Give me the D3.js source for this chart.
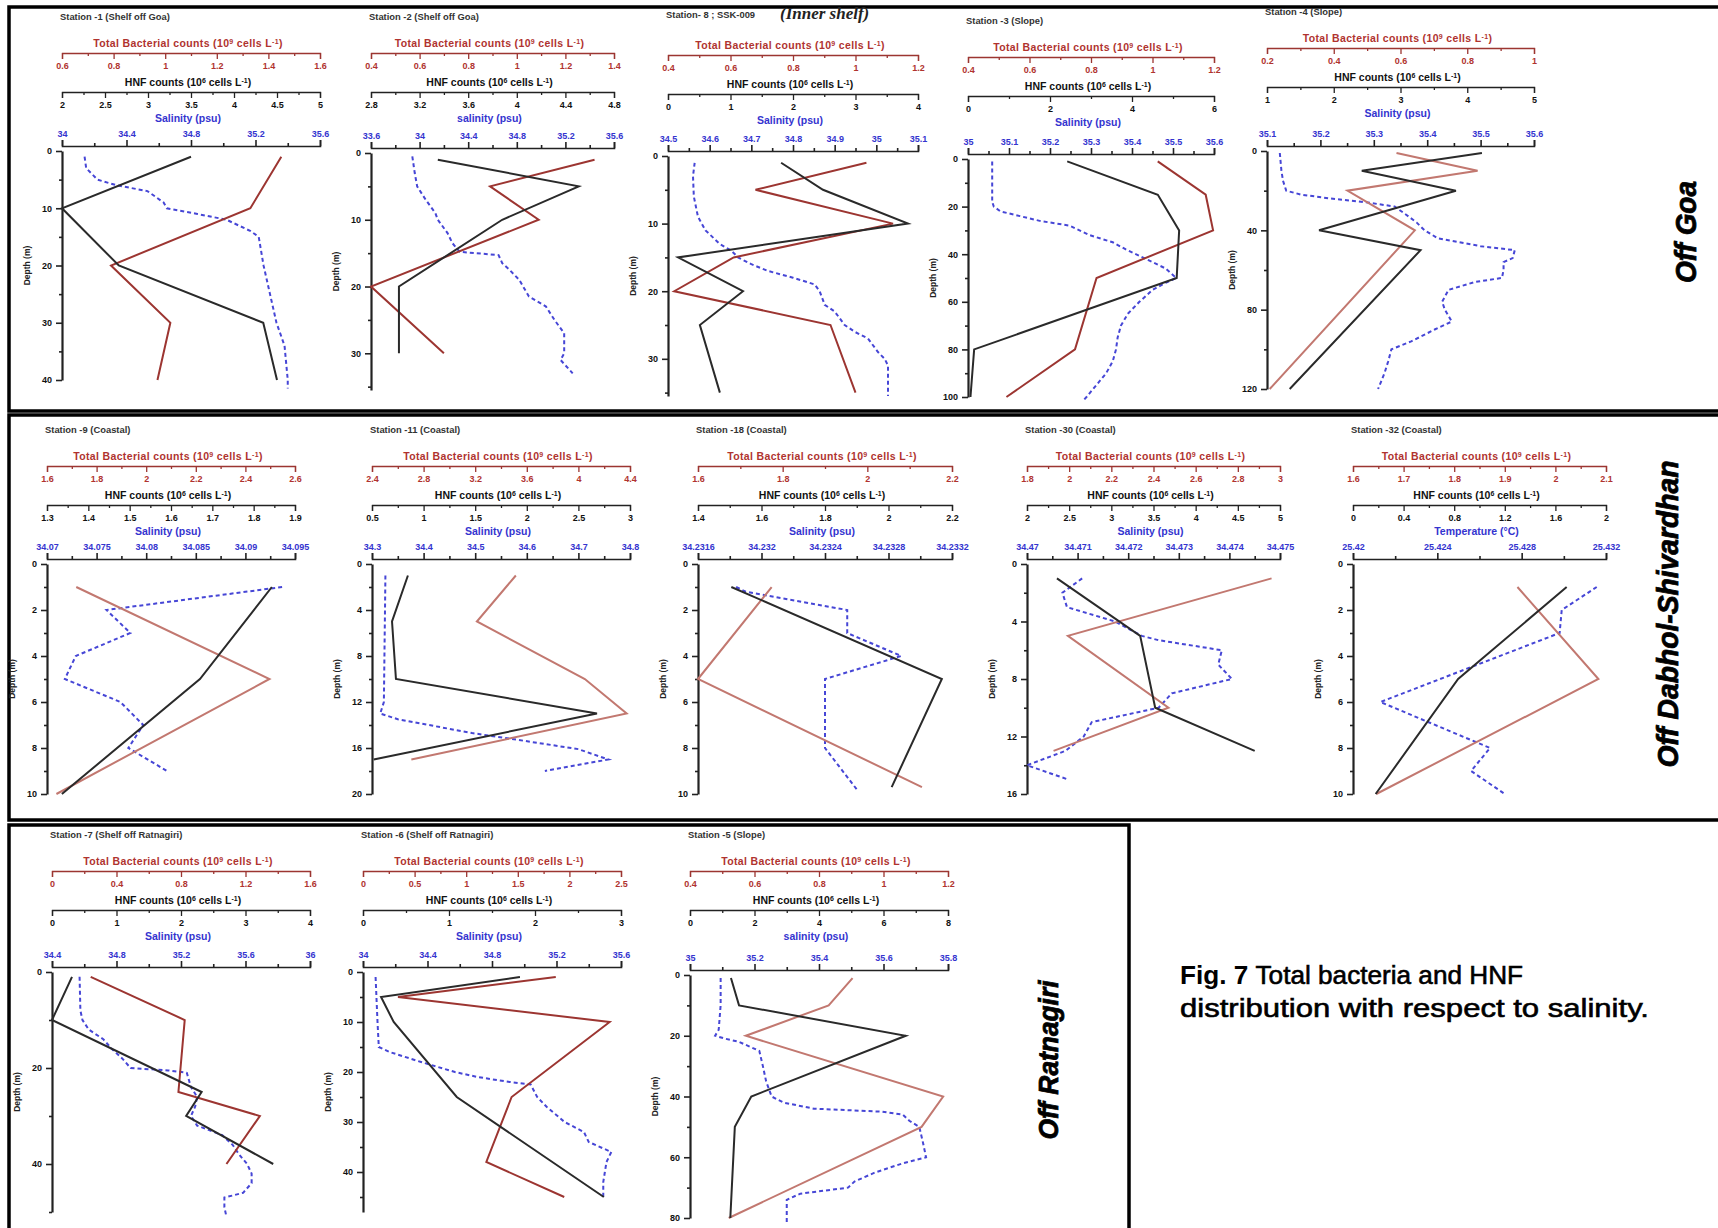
<!DOCTYPE html>
<html>
<head>
<meta charset="utf-8">
<script src="https://cdn.jsdelivr.net/npm/d3@7"></script>
<style>
  html, body { margin: 0; padding: 0; background: #fff; overflow: hidden; }
  svg { display: block; font-family: "Liberation Sans", Arial, sans-serif; }
</style>
</head>
<body>
<div id="chart"></div>
<script>
// ---- station titles and axis ticks (one entry per panel) ----
const stationTitles = [
    "Station -1 (Shelf off Goa)", "Station -2 (Shelf off Goa)", "Station- 8 ; SSK-009", "Station -3 (Slope)", "Station -4 (Slope)",
    "Station -9 (Coastal)", "Station -11 (Coastal)", "Station -18 (Coastal)", "Station -30 (Coastal)", "Station -32 (Coastal)",
    "Station -7 (Shelf off Ratnagiri)", "Station -6 (Shelf off Ratnagiri)", "Station -5 (Slope)"
];
const thirdAxisTitles = [
    "Salinity (psu)", "salinity (psu)", "Salinity (psu)", "Salinity (psu)", "Salinity (psu)",
    "Salinity (psu)", "Salinity (psu)", "Salinity (psu)", "Salinity (psu)", "Temperature (°C)",
    "Salinity (psu)", "Salinity (psu)", "salinity (psu)"
];
const tbcTicks = [
    [0.6, 0.8, 1, 1.2, 1.4, 1.6], [0.4, 0.6, 0.8, 1, 1.2, 1.4], [0.4, 0.6, 0.8, 1, 1.2], [0.4, 0.6, 0.8, 1, 1.2], [0.2, 0.4, 0.6, 0.8, 1],
    [1.6, 1.8, 2, 2.2, 2.4, 2.6], [2.4, 2.8, 3.2, 3.6, 4, 4.4], [1.6, 1.8, 2, 2.2], [1.8, 2, 2.2, 2.4, 2.6, 2.8, 3], [1.6, 1.7, 1.8, 1.9, 2, 2.1],
    [0, 0.4, 0.8, 1.2, 1.6], [0, 0.5, 1, 1.5, 2, 2.5], [0.4, 0.6, 0.8, 1, 1.2]
];
const hnfTicks = [
    [2, 2.5, 3, 3.5, 4, 4.5, 5], [2.8, 3.2, 3.6, 4, 4.4, 4.8], [0, 1, 2, 3, 4], [0, 2, 4, 6], [1, 2, 3, 4, 5],
    [1.3, 1.4, 1.5, 1.6, 1.7, 1.8, 1.9], [0.5, 1, 1.5, 2, 2.5, 3], [1.4, 1.6, 1.8, 2, 2.2], [2, 2.5, 3, 3.5, 4, 4.5, 5], [0, 0.4, 0.8, 1.2, 1.6, 2],
    [0, 1, 2, 3, 4], [0, 1, 2, 3], [0, 2, 4, 6, 8]
];
const salTicks = [
    [34, 34.4, 34.8, 35.2, 35.6], [33.6, 34, 34.4, 34.8, 35.2, 35.6], [34.5, 34.6, 34.7, 34.8, 34.9, 35, 35.1], [35, 35.1, 35.2, 35.3, 35.4, 35.5, 35.6], [35.1, 35.2, 35.3, 35.4, 35.5, 35.6],
    [34.07, 34.075, 34.08, 34.085, 34.09, 34.095], [34.3, 34.4, 34.5, 34.6, 34.7, 34.8], [34.2316, 34.232, 34.2324, 34.2328, 34.2332], [34.47, 34.471, 34.472, 34.473, 34.474, 34.475], [25.42, 25.424, 25.428, 25.432],
    [34.4, 34.8, 35.2, 35.6, 36], [34, 34.4, 34.8, 35.2, 35.6], [35, 35.2, 35.4, 35.6, 35.8]
];
const depthTicks = [
    [0, 10, 20, 30, 40], [0, 10, 20, 30], [0, 10, 20, 30], [0, 20, 40, 60, 80, 100], [0, 40, 80, 120],
    [0, 2, 4, 6, 8, 10], [0, 4, 8, 12, 16, 20], [0, 2, 4, 6, 8, 10], [0, 4, 8, 12, 16], [0, 2, 4, 6, 8, 10],
    [0, 20, 40], [0, 10, 20, 30, 40], [0, 20, 40, 60, 80]
];
const depthMax = [40, 35.5, 35.5, 100, 120, 10, 20, 10, 16, 10, 50, 48, 80];

// ---- profiles: [depth (m), value] ----
// Station -1
const s1Tbc = [[1, 1.45], [10, 1.33], [20, 0.79], [30, 1.02], [40, 0.97]];
const s1Hnf = [[1, 3.5], [10, 2.0], [20, 2.66], [30, 4.34], [40, 4.5]];
const s1Sal = [[1, 34.14], [3, 34.15], [5, 34.22], [6, 34.34], [7, 34.53], [8, 34.58], [9, 34.63], [10, 34.65], [11, 34.84], [12, 35.02], [14, 35.17], [15, 35.22], [20, 35.25], [25, 35.29], [30, 35.33], [34, 35.38], [40, 35.4], [41.5, 35.4]];
// Station -2
const s2Tbc = [[1, 1.32], [5, 0.89], [10, 1.09], [20, 0.4], [30, 0.7]];
const s2Hnf = [[1, 3.35], [5, 4.51], [10, 3.88], [20, 3.03], [30, 3.03]];
const s2Sal = [[0.5, 33.94], [3, 33.96], [5, 33.98], [7, 34.05], [9, 34.13], [10, 34.15], [12, 34.23], [13.5, 34.27], [14.8, 34.33], [15.3, 34.65], [16.5, 34.68], [17.5, 34.74], [19, 34.82], [21.5, 34.9], [23, 35.04], [25, 35.11], [27, 35.19], [30, 35.19], [31, 35.16], [33, 35.26]];
// Station 8
const s8Tbc = [[1, 1.035], [5, 0.68], [10, 1.12], [15, 0.61], [20, 0.42], [25, 0.92], [35, 1.0]];
const s8Hnf = [[1, 1.81], [5, 2.48], [10, 3.84], [15, 0.16], [20, 1.2], [25, 0.51], [35, 0.83]];
const s8Sal = [[1, 34.564], [3, 34.56], [6, 34.562], [9, 34.572], [11, 34.59], [13, 34.624], [14, 34.652], [15, 34.668], [16, 34.7], [17, 34.74], [18, 34.8], [19, 34.852], [20, 34.864], [22, 34.876], [23, 34.9], [25, 34.924], [26, 34.948], [27, 34.98], [29, 35.004], [30, 35.02], [31, 35.028], [35.5, 35.028]];
// Station -3
const s3Tbc = [[1, 1.017], [15, 1.173], [30, 1.197], [50, 0.818], [80, 0.748], [100, 0.525]];
const s3Hnf = [[1, 2.42], [15, 4.63], [30, 5.15], [50, 5.09], [80, 0.15], [100, 0.06]];
const s3Sal = [[1, 35.059], [18, 35.059], [20, 35.063], [22, 35.079], [24, 35.127], [26, 35.175], [28, 35.248], [32, 35.297], [35, 35.353], [38, 35.385], [42, 35.434], [46, 35.482], [50, 35.508], [52, 35.482], [55, 35.45], [60, 35.418], [65, 35.39], [70, 35.373], [75, 35.365], [80, 35.361], [85, 35.353], [90, 35.337], [95, 35.313], [100, 35.289], [101.5, 35.281]];
// Station -4
const s4Tbc = [[1, 0.588], [10, 0.831], [20, 0.441], [40, 0.643], [120, 0.208]];
const s4Hnf = [[1, 4.22], [10, 2.42], [20, 3.83], [40, 1.78], [50, 3.3], [120, 1.34]];
const s4Sal = [[1, 35.124], [10, 35.127], [15, 35.13], [20, 35.136], [22, 35.164], [24, 35.22], [26, 35.289], [28, 35.339], [32, 35.36], [36, 35.38], [40, 35.395], [44, 35.42], [48, 35.5], [50, 35.564], [54, 35.56], [56, 35.543], [60, 35.543], [64, 35.54], [66, 35.49], [70, 35.44], [76, 35.428], [80, 35.433], [86, 35.446], [90, 35.414], [96, 35.37], [100, 35.333], [106, 35.327], [112, 35.32], [116, 35.314], [120, 35.308]];
// Station -9
const s9Tbc = [[1, 1.718], [5, 2.497], [10, 1.638]];
const s9Hnf = [[1, 1.844], [5, 1.67], [10, 1.336]];
const s9Sal = [[1, 34.0937], [2, 34.076], [3, 34.0784], [4, 34.0729], [5, 34.0718], [6, 34.0774], [7, 34.0797], [8, 34.0782], [9, 34.0821]];
// Station -11
const s11Tbc = [[1, 3.515], [5, 3.213], [10, 4.05], [13, 4.374], [17, 2.705]];
const s11Hnf = [[1, 0.848], [5, 0.694], [10, 0.732], [13, 2.68], [17, 0.516]];
const s11Sal = [[1, 34.326], [12, 34.323], [13, 34.316], [13.5, 34.35], [14.7, 34.494], [15.3, 34.584], [16.1, 34.7], [17, 34.758], [18, 34.635]];
// Station -18
const s18Tbc = [[1, 1.774], [5, 1.6], [9.7, 2.129]];
const s18Hnf = [[1, 1.505], [5, 2.168], [9.7, 2.01]];
const s18Sal = [[1, 34.23184], [1.2, 34.2319], [2, 34.23254], [3, 34.23254], [4, 34.23288], [5, 34.2324], [8, 34.2324], [9.8, 34.2326]];
// Station -30
const s30Tbc = [[1, 2.96], [5, 1.994], [10, 2.471], [13, 1.926]];
const s30Hnf = [[1, 2.355], [5, 3.342], [10, 3.52], [13, 4.7]];
const s30Sal = [[1, 34.47109], [2, 34.4707], [3, 34.47079], [4, 34.47174], [5, 34.47227], [5.3, 34.4726], [6, 34.47385], [7, 34.47378], [8, 34.47405], [9, 34.47286], [10, 34.4726], [11, 34.47128], [12, 34.47112], [13, 34.47076], [14, 34.47], [15, 34.47082]];
// Station -32 (third profile is temperature)
const s32Tbc = [[1, 1.925], [5, 2.085], [10, 1.646]];
const s32Hnf = [[1, 1.689], [5, 0.831], [10, 0.179]];
const s32Temp = [[1, 25.43156], [2, 25.4299], [3, 25.4298], [6, 25.4213], [8, 25.4265], [9, 25.4256], [10, 25.4272]];
// Station -7
const s7Tbc = [[1, 0.24], [10, 0.823], [25, 0.784], [30, 1.289], [40, 1.082]];
const s7Hnf = [[1, 0.31], [10, 0], [25, 2.32], [30, 2.08], [40, 3.43]];
const s7Sal = [[1, 34.571], [8, 34.576], [10, 34.589], [12, 34.628], [14, 34.718], [16, 34.77], [18, 34.835], [20, 34.887], [20.5, 35.12], [21, 35.236], [24, 35.262], [26, 35.3], [28, 35.288], [30, 35.262], [32, 35.3], [34, 35.456], [36, 35.52], [38, 35.56], [40, 35.61], [42, 35.638], [44, 35.638], [46, 35.585], [47, 35.469], [49, 35.469], [51, 35.482]];
// Station -6
const s6Tbc = [[1, 1.868], [5, 0.339], [10, 2.39], [25, 1.44], [38, 1.195], [45, 1.95]];
const s6Hnf = [[1, 1.825], [5, 0.21], [10, 0.357], [25, 1.09], [45, 2.8]];
const s6Sal = [[1, 34.078], [10, 34.09], [15, 34.098], [16, 34.165], [18, 34.36], [20, 34.57], [21, 34.71], [22, 34.91], [22.5, 35.04], [25, 35.08], [27, 35.14], [30, 35.25], [32, 35.37], [34, 35.4], [36, 35.54], [38, 35.51], [40, 35.5], [42, 35.49], [45, 35.49]];
// Station -5
const s5Tbc = [[1, 0.904], [10, 0.83], [20, 0.573], [40, 1.185], [50, 1.118], [80, 0.52]];
const s5Hnf = [[1, 1.27], [10, 1.52], [20, 6.69], [40, 1.9], [50, 1.39], [80, 1.25]];
const s5Sal = [[1, 35.095], [10, 35.095], [18, 35.089], [20, 35.078], [21, 35.11], [22, 35.152], [25, 35.215], [30, 35.226], [35, 35.236], [40, 35.253], [42, 35.29], [44, 35.384], [45, 35.595], [46, 35.66], [48, 35.68], [50, 35.711], [55, 35.722], [60, 35.732], [62, 35.66], [65, 35.574], [68, 35.51], [70, 35.49], [72, 35.342], [74, 35.3], [80, 35.3], [82, 35.3]];

const tbcProfiles = [s1Tbc, s2Tbc, s8Tbc, s3Tbc, s4Tbc, s9Tbc, s11Tbc, s18Tbc, s30Tbc, s32Tbc, s7Tbc, s6Tbc, s5Tbc];
const hnfProfiles = [s1Hnf, s2Hnf, s8Hnf, s3Hnf, s4Hnf, s9Hnf, s11Hnf, s18Hnf, s30Hnf, s32Hnf, s7Hnf, s6Hnf, s5Hnf];
const thirdProfiles = [s1Sal, s2Sal, s8Sal, s3Sal, s4Sal, s9Sal, s11Sal, s18Sal, s30Sal, s32Temp, s7Sal, s6Sal, s5Sal];

// ---- layout (pixels): axis span, red-title line, depth 0 and depth-max rows ----
const layout = [
    { x0: 62, x1: 320, top: 43, y0: 151, y1: 380, light: false },
    { x0: 371, x1: 614, top: 43, y0: 153, y1: 390, light: false },
    { x0: 668, x1: 918, top: 45, y0: 156, y1: 396, light: false, titleY: 18 },
    { x0: 968, x1: 1214, top: 47, y0: 159, y1: 397, light: false },
    { x0: 1267, x1: 1534, top: 38, y0: 151, y1: 389, light: true },
    { x0: 47, x1: 295, top: 456, y0: 564, y1: 794, light: true },
    { x0: 372, x1: 630, top: 456, y0: 564, y1: 794, light: true },
    { x0: 698, x1: 952, top: 456, y0: 564, y1: 794, light: true },
    { x0: 1027, x1: 1280, top: 456, y0: 564, y1: 794, light: true },
    { x0: 1353, x1: 1606, top: 456, y0: 564, y1: 794, light: true },
    { x0: 52, x1: 310, top: 861, y0: 972, y1: 1212, light: false },
    { x0: 363, x1: 621, top: 861, y0: 972, y1: 1212, light: false },
    { x0: 690, x1: 948, top: 861, y0: 975, y1: 1218, light: true }
];

const RED = "#b0332f", RED_LINE = "#9c3531", RED_LIGHT = "#c27870";
const BLUE = "#3434cf", BLUE_LINE = "#4646d6", BLACK = "#2a2a2a";

const svg = d3.select("#chart").append("svg")
    .attr("width", 1718)
    .attr("height", 1228);

// boxes around the three regions
svg.append("rect").attr("x", 9).attr("y", 7).attr("width", 1720).attr("height", 404)
    .attr("fill", "none").attr("stroke", "#000").attr("stroke-width", 3.5);
svg.append("rect").attr("x", 9).attr("y", 415).attr("width", 1720).attr("height", 405)
    .attr("fill", "none").attr("stroke", "#000").attr("stroke-width", 3.5);
svg.append("rect").attr("x", 9).attr("y", 825).attr("width", 1120).attr("height", 410)
    .attr("fill", "none").attr("stroke", "#000").attr("stroke-width", 3.5);

function minorTicks(ticks) {
    return d3.pairs(ticks).map(([a, b]) => (a + b) / 2);
}

function StackedAxis(g, scale, ticks, yPos, below, lineColor, textColor, lineWidth) {
    const make = below ? d3.axisBottom : d3.axisTop;
    g.append("g")
        .attr("transform", `translate(0,${yPos})`)
        .call(make(scale).tickValues(minorTicks(ticks)).tickSize(3).tickFormat(""))
        .call(a => a.select(".domain").remove())
        .call(a => a.selectAll("line").attr("stroke", lineColor).attr("stroke-width", lineWidth));
    g.append("g")
        .attr("transform", `translate(0,${yPos})`)
        .call(make(scale).tickValues(ticks).tickSize(6).tickPadding(below ? 4 : 3).tickFormat(d => d))
        .call(a => a.select(".domain").attr("stroke", lineColor).attr("stroke-width", lineWidth))
        .call(a => a.selectAll("line").attr("stroke", lineColor).attr("stroke-width", lineWidth))
        .call(a => a.selectAll("text").attr("fill", textColor).attr("font-size", 9)
            .attr("font-weight", "bold").attr("font-family", "Liberation Sans, Arial, sans-serif"));
}

// title with real superscripts: parts = [[text, isSup], ...]
function AxisTitle(g, cx, cy, parts, color, spacing) {
    const t = g.append("text")
        .attr("x", cx).attr("y", cy + 3.8)
        .attr("text-anchor", "middle")
        .attr("fill", color)
        .attr("font-size", 10.5)
        .attr("font-weight", "bold")
        .attr("letter-spacing", spacing);
    parts.forEach(([s, sup]) => {
        const sp = t.append("tspan").text(s);
        if (sup) sp.attr("font-size", 7).attr("baseline-shift", "super");
    });
}

function DrawPanel(i) {
    const L = layout[i];
    const g = svg.append("g");
    const cx = (L.x0 + L.x1) / 2 - 3;

    const xTbc = d3.scaleLinear().domain(d3.extent(tbcTicks[i])).range([L.x0, L.x1]);
    const xHnf = d3.scaleLinear().domain(d3.extent(hnfTicks[i])).range([L.x0, L.x1]);
    const xSal = d3.scaleLinear().domain(d3.extent(salTicks[i])).range([L.x0, L.x1]);
    const y = d3.scaleLinear().domain([0, depthMax[i]]).range([L.y0, L.y1]);

    g.append("text")
        .attr("x", L.x0 - 2).attr("y", L.titleY || L.top - 23)
        .attr("fill", "#333").attr("font-size", 9.4).attr("font-weight", "bold")
        .text(stationTitles[i]);

    AxisTitle(g, cx, L.top, [["Total Bacterial counts (10", false], ["9", true], [" cells L", false], ["-1", true], [")", false]], RED, 0.35);
    StackedAxis(g, xTbc, tbcTicks[i], L.top + 10, true, RED_LINE, RED, 1.3);

    AxisTitle(g, cx, L.top + 39, [["HNF counts (10", false], ["6", true], [" cells L", false], ["-1", true], [")", false]], "#111", 0);
    StackedAxis(g, xHnf, hnfTicks[i], L.top + 49, true, "#222", "#111", 1.3);

    AxisTitle(g, cx, L.top + 75, [[thirdAxisTitles[i], false]], BLUE, 0);
    StackedAxis(g, xSal, salTicks[i], L.y0 - 5, false, "#222", BLUE, 1.6);

    // depth axis
    const dMinor = minorTicks(depthTicks[i]);
    const last = depthTicks[i][depthTicks[i].length - 1];
    if (depthMax[i] - last > 0) dMinor.push(last + (depthTicks[i][1] - depthTicks[i][0]) / 2);
    g.append("g")
        .attr("transform", `translate(${L.x0},0)`)
        .call(d3.axisLeft(y).tickValues(dMinor.filter(d => d <= depthMax[i])).tickSize(3).tickFormat(""))
        .call(a => a.select(".domain").remove())
        .call(a => a.selectAll("line").attr("stroke", "#222").attr("stroke-width", 1.6));
    g.append("g")
        .attr("transform", `translate(${L.x0},0)`)
        .call(d3.axisLeft(y).tickValues(depthTicks[i]).tickSize(6).tickSizeOuter(0).tickPadding(4).tickFormat(d => d))
        .call(a => a.select(".domain").attr("stroke", "#222").attr("stroke-width", 2.2))
        .call(a => a.selectAll("line").attr("stroke", "#222").attr("stroke-width", 1.6))
        .call(a => a.selectAll("text").attr("fill", "#111").attr("font-size", 9).attr("font-weight", "bold"));

    g.append("text")
        .attr("transform", `translate(${L.x0 - 32},${(L.y0 + L.y1) / 2}) rotate(-90)`)
        .attr("text-anchor", "middle")
        .attr("fill", "#222").attr("font-size", 8.5).attr("font-weight", "bold")
        .text("Depth (m)");

    // profiles
    const line = xs => d3.line().x(d => xs(d[1])).y(d => y(d[0]));

    g.append("path")
        .datum(thirdProfiles[i])
        .attr("fill", "none")
        .attr("stroke", BLUE_LINE)
        .attr("stroke-width", 2)
        .attr("stroke-dasharray", "4,3")
        .attr("d", line(xSal));

    g.append("path")
        .datum(tbcProfiles[i])
        .attr("fill", "none")
        .attr("stroke", L.light ? RED_LIGHT : RED_LINE)
        .attr("stroke-width", 2)
        .attr("d", line(xTbc));

    g.append("path")
        .datum(hnfProfiles[i])
        .attr("fill", "none")
        .attr("stroke", BLACK)
        .attr("stroke-width", 2)
        .attr("d", line(xHnf));
}

layout.forEach((L, i) => DrawPanel(i));

// extra label next to station 8
svg.append("text")
    .attr("x", 780).attr("y", 19)
    .attr("font-family", "Liberation Serif, Times New Roman, serif")
    .attr("font-style", "italic").attr("font-weight", "bold")
    .attr("font-size", 17).attr("fill", "#222")
    .text("(Inner shelf)");

// region labels
const regions = [
    { text: "Off Goa", x: 1685, y: 232, len: 102, size: 30 },
    { text: "Off Dabhol-Shivardhan", x: 1668, y: 614, len: 307, size: 29 },
    { text: "Off Ratnagiri", x: 1048, y: 1060, len: 159, size: 27 }
];
regions.forEach(r => {
    svg.append("text")
        .attr("transform", `translate(${r.x + r.size * 0.36},${r.y}) rotate(-90)`)
        .attr("text-anchor", "middle")
        .attr("font-size", r.size)
        .attr("font-weight", "bold")
        .attr("font-style", "italic")
        .attr("textLength", r.len)
        .attr("lengthAdjust", "spacingAndGlyphs")
        .attr("fill", "#000")
        .attr("stroke", "#000")
        .attr("stroke-width", 0.8)
        .text(r.text);
});

// caption
const cap1 = svg.append("text")
    .attr("x", 1180).attr("y", 984)
    .attr("font-family", "Liberation Sans Narrow, Arial Narrow, Liberation Sans, sans-serif")
    .attr("font-size", 26)
    .attr("textLength", 343)
    .attr("lengthAdjust", "spacingAndGlyphs")
    .attr("fill", "#000");
cap1.append("tspan").attr("font-weight", "bold").text("Fig. 7 ");
cap1.append("tspan").attr("stroke", "#000").attr("stroke-width", 0.6).text("Total bacteria and HNF");

svg.append("text")
    .attr("x", 1180).attr("y", 1017)
    .attr("font-family", "Liberation Sans Narrow, Arial Narrow, Liberation Sans, sans-serif")
    .attr("font-size", 26)
    .attr("textLength", 469)
    .attr("lengthAdjust", "spacingAndGlyphs")
    .attr("fill", "#000")
    .attr("stroke", "#000")
    .attr("stroke-width", 0.6)
    .text("distribution with respect to salinity.");
</script>
</body>
</html>
